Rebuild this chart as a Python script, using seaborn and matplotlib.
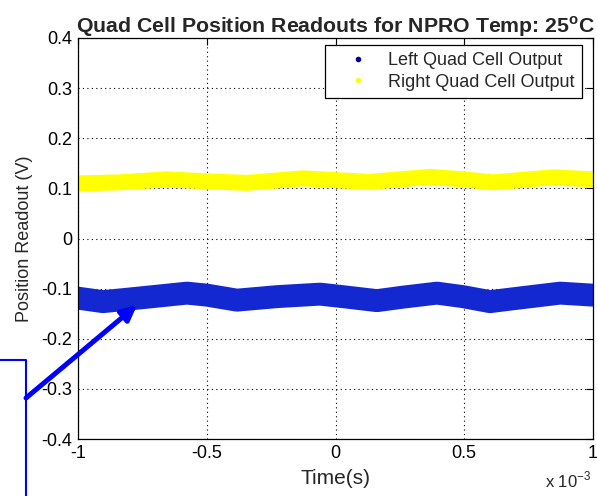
import numpy as np
import pandas as pd
import matplotlib
matplotlib.use("Agg")
import matplotlib.pyplot as plt
from matplotlib.lines import Line2D
from matplotlib.ticker import FuncFormatter
import seaborn as sns

# ---- data (time in units of 1e-3 s) ----
left_t = [-1.0, -0.903, -0.748, -0.577, -0.499, -0.383, -0.227, -0.060,
          0.045, 0.161, 0.262, 0.394, 0.495, 0.600, 0.678, 0.872, 1.0]
left_v = [-0.119, -0.126, -0.118, -0.109, -0.113, -0.123, -0.116, -0.111,
          -0.117, -0.124, -0.117, -0.109, -0.116, -0.126, -0.121, -0.109, -0.113]
right_t = [-1.0, -0.837, -0.654, -0.499, -0.344, -0.126, -0.060, 0.134,
           0.367, 0.495, 0.612, 0.845, 1.0]
right_v = [0.110, 0.112, 0.118, 0.114, 0.111, 0.120, 0.118, 0.113,
           0.123, 0.118, 0.112, 0.122, 0.118]
x_ticks = [-1, -0.5, 0, 0.5, 1]
y_ticks = [-0.4, -0.3, -0.2, -0.1, 0, 0.1, 0.2, 0.3, 0.4]
series_names = ["Left Quad Cell Output", "Right Quad Cell Output"]

BLUE = "#1428d2"
YELLOW = "#ffff00"

sns.set_style("white")
plt.rcParams["font.family"] = ["Liberation Sans", "DejaVu Sans"]
plt.rcParams["mathtext.fontset"] = "custom"
plt.rcParams["mathtext.rm"] = "Liberation Sans"
plt.rcParams["mathtext.bf"] = "Liberation Sans:bold"

fig = plt.figure(figsize=(5.97, 4.96), dpi=100)
ax = fig.add_axes([78/597, 57/496, 515/597, 401/496])

df_l = pd.DataFrame({"t": left_t, "v": left_v})
df_r = pd.DataFrame({"t": right_t, "v": right_v})
sns.lineplot(data=df_l, x="t", y="v", color=BLUE, linewidth=16.5, ax=ax,
             legend=False, solid_capstyle="round", solid_joinstyle="round")
sns.lineplot(data=df_r, x="t", y="v", color=YELLOW, linewidth=11.5, ax=ax,
             legend=False, solid_capstyle="round", solid_joinstyle="round")

ax.set_xlim(-1, 1)
ax.set_ylim(-0.4, 0.4)
ax.set_xticks(x_ticks)
ax.set_yticks(y_ticks)
ax.xaxis.set_major_formatter(FuncFormatter(lambda v, p: f"{v:g}"))
ax.yaxis.set_major_formatter(FuncFormatter(lambda v, p: f"{round(v, 2):g}"))
ax.tick_params(direction="in", length=5, width=0.8, top=True, right=True,
               labelsize=13, colors="black", pad=4)
ax.set_axisbelow(True)
ax.grid(True, linestyle=(0, (1, 3)), color="black", linewidth=0.8)
for s in ax.spines.values():
    s.set_color("black")
    s.set_linewidth(0.9)

ax.set_xlabel("Time(s)", fontsize=15, labelpad=5)
ax.set_ylabel("Position Readout (V)", fontsize=13, labelpad=6)
ax.set_title(r"Quad Cell Position Readouts for NPRO Temp: 25$^{\mathbf{o}}$C",
             fontsize=15.3, fontweight="bold", pad=4)
fig.text(545/597, 1 - 487/496, r"x 10$^{-3}$", fontsize=12, ha="left", va="baseline")

handles = [Line2D([], [], linestyle="none", marker=".", markersize=6,
                  color=c) for c in ["#00008b", YELLOW]]
leg = ax.legend(handles, series_names, loc="upper right",
                bbox_to_anchor=(0.979, 0.983), borderaxespad=0,
                fontsize=13, frameon=True, fancybox=False, framealpha=1,
                edgecolor="black", handlelength=2.8, handletextpad=0.3,
                labelspacing=0.25, borderpad=0.4)
leg.get_frame().set_linewidth(0.9)

# annotation arrow and bracket (outside axes)
ax.annotate("", xy=(-0.771, -0.133), xycoords="data",
            xytext=(26, 98), textcoords="figure pixels",
            arrowprops=dict(arrowstyle="-|>", color="#0000ff", lw=3.6,
                            mutation_scale=22, shrinkA=0, shrinkB=0),
            annotation_clip=False)
fig.add_artist(Line2D([0, 26/597, 26/597], [136/496, 136/496, 0],
                      transform=fig.transFigure, color="#0000ff", lw=1.5))

fig.savefig("out.png", dpi=100, facecolor="white")
